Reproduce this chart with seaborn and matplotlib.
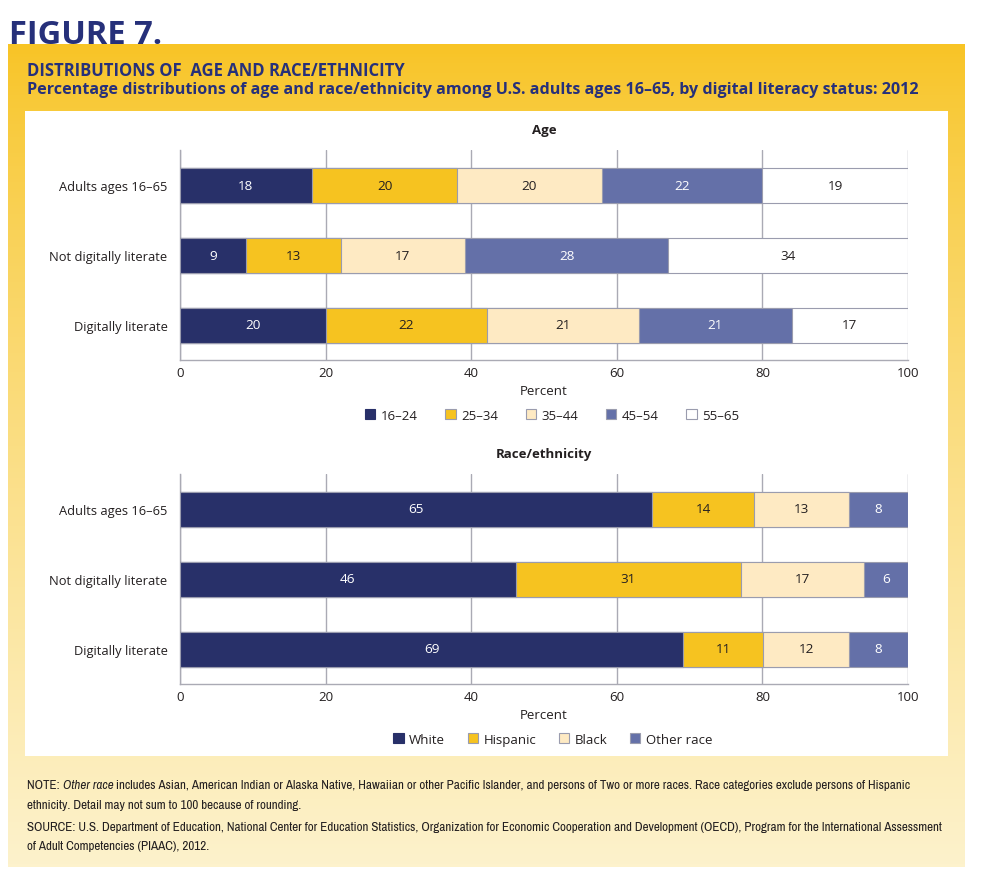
import numpy as np
import pandas as pd
import matplotlib
matplotlib.use("Agg")
import matplotlib.pyplot as plt
from matplotlib import font_manager
from matplotlib.patches import Patch, Rectangle
import seaborn as sns

# ---- data -------------------------------------------------------------
rows = ["Adults ages 16–65", "Not digitally literate", "Digitally literate"]

age_groups = ["16–24", "25–34", "35–44", "45–54", "55–65"]
# bar lengths as drawn (unrounded) and the printed labels
age_adults = [18.1, 20.0, 19.8, 22.1, 20.0]
age_not_lit = [9.1, 13.0, 17.0, 28.0, 32.9]
age_lit = [20.0, 22.2, 20.8, 21.0, 16.0]
age_adults_lbl = [18, 20, 20, 22, 19]
age_not_lit_lbl = [9, 13, 17, 28, 34]
age_lit_lbl = [20, 22, 21, 21, 17]

race_groups = ["White", "Hispanic", "Black", "Other race"]
race_adults = [64.9, 14.0, 13.0, 8.1]
race_not_lit = [46.1, 30.9, 17.0, 6.0]
race_lit = [69.1, 11.0, 11.8, 8.1]
race_adults_lbl = [65, 14, 13, 8]
race_not_lit_lbl = [46, 31, 17, 6]
race_lit_lbl = [69, 11, 12, 8]

x_ticks = [0, 20, 40, 60, 80, 100]

# ---- style ------------------------------------------------------------
NAVY = "#283069"
GOLD = "#f6c320"
CREAM = "#feeac3"
SLATE = "#6470a8"
WHITE = "#ffffff"
EDGE = "#9a9cae"
GRID = "#aaaab4"
TXT = "#231f20"
HEAD = "#26307a"

sns.set_theme(style="white")
plt.rcParams["font.family"] = ["Open Sans", "DejaVu Sans"]

# narrow font for the notes, if one is installed
narrow = None
for f in font_manager.fontManager.ttflist:
    if "Narrow" in f.name or "Condensed" in f.name:
        narrow = f.name
        break
if narrow is None:
    for f in font_manager.fontManager.ttflist:
        if str(f.stretch) in ("condensed", "semi-condensed", "extra-condensed"):
            narrow = f.name
            break

fig = plt.figure(figsize=(10, 8.7), dpi=100)
W, H = 1000, 870


def fx(px):
    return px / W


def fy(py):
    return 1 - py / H


# gold panel with vertical gradient + white inner panel
bg = fig.add_axes([0, 0, 1, 1], zorder=-5)
top = np.array(matplotlib.colors.to_rgb("#f8c425"))
bot = np.array(matplotlib.colors.to_rgb("#fdf2cc"))
t = np.linspace(0, 1, 256) ** 0.8
grad = top[None, :] * (1 - t[:, None]) + bot[None, :] * t[:, None]
bg.imshow(grad[:, None, :], extent=(8, 965, 868, 45), aspect="auto")
bg.add_patch(Rectangle((25, 112), 923, 645, facecolor="white", edgecolor="none"))
bg.set_xlim(0, W)
bg.set_ylim(H, 0)
bg.axis("off")

fig.text(fx(9), fy(44), "FIGURE 7.", fontsize=23.5, fontweight="bold",
         color=HEAD, va="baseline", ha="left")
fig.text(fx(27), fy(76), "DISTRIBUTIONS OF  AGE AND RACE/ETHNICITY",
         fontsize=12, fontweight="bold", color=HEAD, va="baseline")
fig.text(fx(27), fy(94),
         "Percentage distributions of age and race/ethnicity among U.S. adults "
         "ages 16–65, by digital literacy status: 2012",
         fontsize=11.6, fontweight="bold", color=HEAD, va="baseline")


def stacked(ax, title, groups, colors, txtcolors, values, labels, colspace, lx):
    vals = np.array(values)
    cum = vals.cumsum(axis=1)
    # draw longest cumulative first so shorter ones sit on top
    for i in reversed(range(len(groups))):
        df = pd.DataFrame({"row": rows, "cum": cum[:, i]})
        sns.barplot(data=df, x="cum", y="row", orient="h", color=colors[i],
                    saturation=1, width=0.5, edgecolor=EDGE, linewidth=0.8,
                    ax=ax, zorder=3)
    for r in range(len(rows)):
        for i in range(len(groups)):
            ax.text(cum[r, i] - vals[r, i] / 2, r, str(labels[r][i]),
                    ha="center", va="center", fontsize=9.7,
                    color=txtcolors[i], zorder=5)
    ax.set_xlim(0, 100)
    ax.set_ylim(2.5, -0.5)
    ax.set_xticks(x_ticks)
    ax.xaxis.grid(True, color=GRID, lw=1)
    ax.yaxis.grid(False)
    ax.set_axisbelow(True)
    for s in ["top", "right"]:
        ax.spines[s].set_visible(False)
    for s in ["left", "bottom"]:
        ax.spines[s].set_color(GRID)
        ax.spines[s].set_linewidth(1)
    ax.tick_params(axis="x", length=0, pad=4, labelsize=9.5, labelcolor=TXT)
    ax.tick_params(axis="y", length=0, pad=9, labelsize=9.3, labelcolor=TXT)
    ax.set_ylabel("")
    ax.set_xlabel("Percent", fontsize=9.5, color=TXT, labelpad=4)
    ax.set_title(title, fontsize=9.5, fontweight="bold", color=TXT, pad=12)
    handles = [Patch(facecolor=c, edgecolor=(c if c == NAVY else EDGE), lw=0.8)
               for c in colors]
    ax.legend(handles, groups, loc="center", bbox_to_anchor=(lx, -0.262),
              ncol=len(groups), frameon=False, fontsize=9.5,
              handlelength=0.8, handleheight=0.8, handletextpad=0.4,
              columnspacing=colspace, labelcolor=TXT)


ax1 = fig.add_axes([fx(180), fy(361), 0.728, 210 / H])
stacked(ax1, "Age", age_groups, [NAVY, GOLD, CREAM, SLATE, WHITE],
        ["white", TXT, TXT, "white", TXT],
        [age_adults, age_not_lit, age_lit],
        [age_adults_lbl, age_not_lit_lbl, age_lit_lbl], 2.1, 0.511)

ax2 = fig.add_axes([fx(180), fy(685), 0.728, 210 / H])
stacked(ax2, "Race/ethnicity", race_groups, [NAVY, GOLD, CREAM, SLATE],
        ["white", TXT, TXT, "white"],
        [race_adults, race_not_lit, race_lit],
        [race_adults_lbl, race_not_lit_lbl, race_lit_lbl], 1.7, 0.512)

# notes
if narrow is not None:
    NFONT = [narrow, "DejaVu Sans"]
    nsize = 9.4
else:
    NFONT = ["Roboto", "DejaVu Sans"]
    nsize = 7.6
nkw = dict(fontsize=nsize, color=TXT, family=NFONT, va="bottom")
n1 = fig.text(fx(27), fy(791), "NOTE: ", **nkw)
n2 = bg.annotate("Other race", xy=(1, 0), xycoords=n1, style="italic", **nkw)
bg.annotate(" includes Asian, American Indian or Alaska Native, Hawaiian or other "
            "Pacific Islander, and persons of Two or more races. Race categories "
            "exclude persons of Hispanic", xy=(1, 0), xycoords=n2, **nkw)
fig.text(fx(27), fy(811),
         "ethnicity. Detail may not sum to 100 because of rounding.", **nkw)
fig.text(fx(27), fy(833),
         "SOURCE: U.S. Department of Education, National Center for Education "
         "Statistics, Organization for Economic Cooperation and Development (OECD), "
         "Program for the International Assessment", **nkw)
fig.text(fx(27), fy(852), "of Adult Competencies (PIAAC), 2012.", **nkw)

fig.savefig("out.png", dpi=100)
